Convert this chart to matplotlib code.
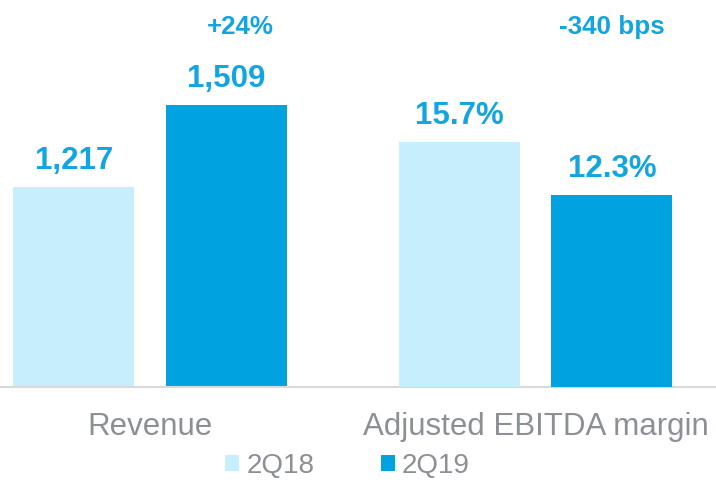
import matplotlib.pyplot as plt

plt.rcParams['font.family'] = ['Liberation Sans', 'DejaVu Sans']

categories = ["Revenue", "Adjusted EBITDA margin"]
periods = ["2Q18", "2Q19"]
revenue = [1217, 1509]
margin = [15.7, 12.3]
revenue_labels = ["1,217", "1,509"]
margin_labels = ["15.7%", "12.3%"]
change_labels = ["+24%", "-340 bps"]

light = "#c6eefc"
dark = "#00a3e0"
txt_blue = "#12a5e0"
gray = "#8c9095"

fig = plt.figure(figsize=(7.16, 4.80), dpi=100)
ax = fig.add_axes([0, 0.1944, 1, 0.8056])
ax2 = ax.twinx()

w = 0.314
off = 0.198
colors = [light, dark]

# revenue group (its own scale, baseline not at zero as in the source slide)
for i in range(2):
    x = 0 + (i * 2 - 1) * off
    ax.bar(x, revenue[i], w, color=colors[i], label=periods[i])
    ax.annotate(revenue_labels[i], (x, revenue[i]), xytext=(0, 13),
                textcoords="offset points", ha="center", va="baseline",
                fontsize=22.5, fontweight="bold", color=txt_blue)

# margin group on a second scale
for i in range(2):
    x = 1 + (i * 2 - 1) * off
    ax2.bar(x, margin[i], w, color=colors[i])
    ax2.annotate(margin_labels[i], (x, margin[i]), xytext=(0, 13),
                 textcoords="offset points", ha="center", va="baseline",
                 fontsize=22.5, fontweight="bold", color=txt_blue)

ax.text(0 + off + 0.036, 0.913, change_labels[0], transform=ax.get_xaxis_transform(),
        ha="center", va="baseline", fontsize=18.7, fontweight="bold", color=txt_blue)
ax.text(1 + off, 0.913, change_labels[1], transform=ax.get_xaxis_transform(),
        ha="center", va="baseline", fontsize=18.7, fontweight="bold", color=txt_blue)

ax.set_xlim(-0.389, 1.468)
ax.set_ylim(502, 1884)
ax2.set_ylim(0, 24.78)

for a in (ax, ax2):
    for s in ["top", "left", "right"]:
        a.spines[s].set_visible(False)
    a.spines["bottom"].set_visible(False)
    a.set_yticks([])
ax.spines["bottom"].set_visible(True)
ax.spines["bottom"].set_color("#d9d9d9")
ax.spines["bottom"].set_linewidth(1.5)

ax.set_xticks([0, 1])
ax.set_xticklabels(categories, fontsize=22.5, color=gray)
ax.tick_params(axis="x", length=0, pad=18)

fig.legend(loc="center", bbox_to_anchor=(347.5 / 716, 14 / 480), ncol=2,
           frameon=False, fontsize=20, handlelength=0.5, handleheight=0.5,
           handletextpad=0.25, columnspacing=2.4, borderpad=0, labelcolor=gray)

fig.savefig("out.png", dpi=100)
